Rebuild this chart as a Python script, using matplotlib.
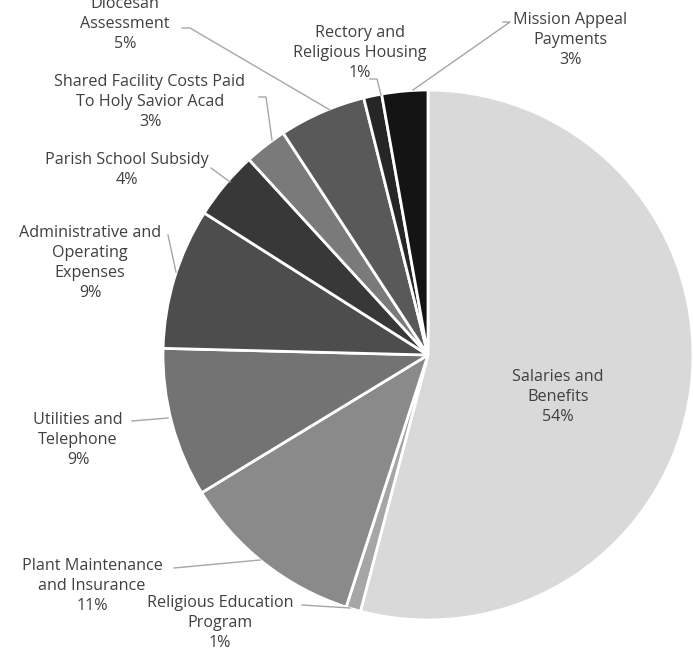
import matplotlib
matplotlib.use("Agg")
import matplotlib.pyplot as plt

categories = ["Salaries and\nBenefits", "Religious Education\nProgram", "Plant Maintenance\nand Insurance",
              "Utilities and\nTelephone", "Administrative and\nOperating\nExpenses", "Parish School Subsidy",
              "Shared Facility Costs Paid\nTo Holy Savior Acad", "Diocesan\nAssessment",
              "Rectory and\nReligious Housing", "Mission Appeal\nPayments"]
values = [54.1, 0.9, 11.3, 9.1, 8.6, 4.2, 2.6, 5.3, 1.1, 2.8]
colors = ["#d9d9d9", "#a6a6a6", "#8a8a8a", "#737373", "#4d4d4d", "#383838",
          "#7a7a7a", "#595959", "#262626", "#141414"]

W, H = 693, 651
fig = plt.figure(figsize=(W / 100, H / 100), dpi=100)
ax = fig.add_axes([0, 0, 1, 1])

def px(x, y):
    return (x, H - y)

cx, cy = px(428, 355)
ax.pie(values, colors=colors, startangle=90, counterclock=False, center=(cx, cy), radius=265,
       wedgeprops=dict(edgecolor="white", linewidth=2), frame=True)
ax.set_xlim(0, W)
ax.set_ylim(0, H)
ax.set_aspect("equal")
ax.axis("off")

total = sum(values)
layout = [
    ((558, 397), None),
    ((220, 623), [(302, 605), (350, 608)]),
    ((92, 586), [(174, 568), (260, 560)]),
    ((78, 440), [(132, 421), (168, 418)]),
    ((90, 263), [(168, 235), (176, 272)]),
    ((127, 170), [(211, 168), (230, 182)]),
    ((150, 102), [(259, 97), (266, 97), (272, 140)]),
    ((125, 24), [(182, 28), (190, 28), (330, 110)]),
    ((360, 53), [(370, 79), (377, 79), (381, 95)]),
    ((570, 40), [(503, 22), (510, 22), (413, 90)]),
]
txtcol = "#404040"
for cat, v, (pos, line) in zip(categories, values, layout):
    label = f"{cat}\n{round(v / total * 100)}%"
    ax.text(*px(*pos), label, ha="center", va="center", fontsize=11.6, color=txtcol,
            family="Open Sans", linespacing=1.32)
    if line:
        xs = [p[0] for p in line]
        ys = [H - p[1] for p in line]
        ax.plot(xs, ys, color="#a6a6a6", lw=1)

fig.savefig("out.png", dpi=100)
